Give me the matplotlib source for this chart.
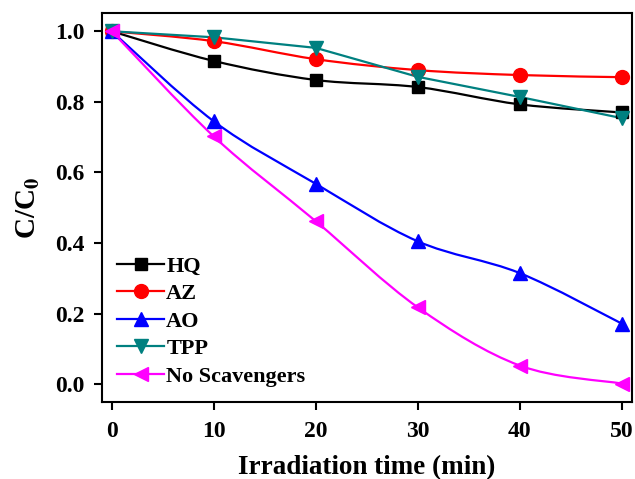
import matplotlib
matplotlib.use('Agg')
import matplotlib.pyplot as plt
import numpy as np
from matplotlib.path import Path
from matplotlib.patches import PathPatch
from matplotlib.lines import Line2D

plt.rcParams['font.family'] = ['Liberation Serif', 'DejaVu Serif']
plt.rcParams['font.weight'] = 'bold'
plt.rcParams['mathtext.fontset'] = 'stix'
plt.rcParams['mathtext.default'] = 'bf'

# tempo di irraggiamento (min)
t = [0, 10, 20, 30, 40, 50]
hq = [1.0, 0.916, 0.862, 0.842, 0.793, 0.770]
az = [1.0, 0.972, 0.921, 0.890, 0.876, 0.870]
ao = [1.0, 0.745, 0.568, 0.405, 0.315, 0.172]
tpp = [1.0, 0.983, 0.953, 0.871, 0.814, 0.754]
nosc = [1.0, 0.702, 0.462, 0.218, 0.053, 0.002]

series = [
    ('HQ', hq, 'black', 's', 8.5, True),
    ('AZ', az, 'red', 'o', 10, True),
    ('AO', ao, 'blue', '^', 9.5, True),
    ('TPP', tpp, '#008080', 'v', 9.5, False),
    ('No Scavengers', nosc, '#ff00ff', '<', 9.5, True),
]


def smooth_path(x, y):
    # curva tipo Catmull-Rom come cubiche di Bezier (stile "spline" di Origin)
    x = np.asarray(x, float); y = np.asarray(y, float)
    verts = [(x[0], y[0])]; codes = [Path.MOVETO]
    n = len(x)
    for i in range(n - 1):
        p0 = np.array([x[max(i - 1, 0)], y[max(i - 1, 0)]])
        p1 = np.array([x[i], y[i]])
        p2 = np.array([x[i + 1], y[i + 1]])
        p3 = np.array([x[min(i + 2, n - 1)], y[min(i + 2, n - 1)]])
        c1 = p1 + (p2 - p0) / 6.0
        c2 = p2 - (p3 - p1) / 6.0
        verts += [tuple(c1), tuple(c2), tuple(p2)]
        codes += [Path.CURVE4] * 3
    return Path(verts, codes)


fig = plt.figure(figsize=(6.35, 4.79), dpi=100)
ax = fig.add_axes([0.160, 0.161, 0.835, 0.812])

handles = []
for lab, y, col, mk, ms, smooth in series:
    if smooth:
        ax.add_patch(PathPatch(smooth_path(t, y), facecolor='none', edgecolor=col, lw=1.6, zorder=2))
    else:
        ax.plot(t, y, color=col, lw=1.6, zorder=2)
    ax.plot(t, y, linestyle='none', marker=mk, ms=ms, color=col, zorder=3)
    handles.append(Line2D([], [], color=col, lw=1.6, marker=mk, ms=ms, label=lab))

ax.set_xlim(-1, 51)
ax.set_ylim(-0.05, 1.052)
ax.set_xticks([0, 10, 20, 30, 40, 50])
ax.set_yticks([0.0, 0.2, 0.4, 0.6, 0.8, 1.0])
ax.set_yticklabels(['0.0', '0.2', '0.4', '0.6', '0.8', '1.0'])
ax.tick_params(direction='out', length=6, width=1.5, labelsize=17)
ax.tick_params(axis='x', pad=8)
ax.tick_params(axis='y', pad=6)
for s in ax.spines.values():
    s.set_linewidth(1.5)

ax.set_xlabel('Irradiation time (min)', fontsize=19.5, fontweight='bold', labelpad=9)
ax.set_ylabel(r'C/C$_0$', fontsize=21, fontweight='bold', labelpad=10)

ax.legend(handles=handles, loc='lower left', bbox_to_anchor=(-0.008, -0.012), frameon=False,
          fontsize=16, handlelength=2.1, handletextpad=0.1, labelspacing=0.31, borderaxespad=0.5)

fig.savefig('out.png', dpi=100)
